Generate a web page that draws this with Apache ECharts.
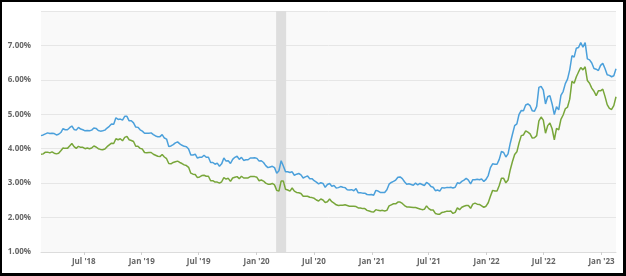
<!DOCTYPE html>
<html><head><meta charset="utf-8">
<script src="https://cdn.jsdelivr.net/npm/echarts@6/dist/echarts.min.js"></script>
<style>
html,body{margin:0;padding:0;background:#fff;}
#chart{position:absolute;left:0;top:0;width:626px;height:276px;}
#frame{position:absolute;left:0;top:0;width:626px;height:276px;box-sizing:border-box;border-style:solid;border-color:#000;border-width:2px 3px 3px 2px;pointer-events:none;}
</style></head>
<body>
<div id="chart"></div><div id="frame"></div>
<script>
// Weekly observations starting Thursday 2018-02-15
const startDate = '2018-02-15';

const fixed30_2018 = [4.38,4.40,4.43,4.46,4.44,4.45,4.44,4.40,4.42,4.47,4.58,4.55,4.55,4.61,4.66,4.56,4.54,4.62,4.57,4.55,4.52,4.53,4.52,4.54,4.60,4.59,4.53,4.51,4.52,4.54,4.60,4.65,4.72,4.71,4.90,4.85,4.86,4.83,4.94,4.94,4.81,4.81,4.75,4.63,4.62,4.55];
const fixed30_2019 = [4.51,4.45,4.45,4.45,4.46,4.41,4.37,4.35,4.35,4.41,4.31,4.28,4.06,4.08,4.12,4.17,4.20,4.14,4.10,4.07,4.06,3.99,3.82,3.82,3.84,3.73,3.75,3.75,3.81,3.75,3.75,3.60,3.60,3.55,3.58,3.49,3.56,3.73,3.64,3.65,3.57,3.69,3.75,3.78,3.69,3.75,3.66,3.68,3.68,3.73,3.73,3.74];
const fixed30_2020 = [3.72,3.64,3.65,3.60,3.51,3.45,3.47,3.49,3.45,3.29,3.36,3.65,3.50,3.33,3.33,3.31,3.33,3.23,3.26,3.28,3.24,3.15,3.18,3.21,3.13,3.13,3.07,3.03,2.98,3.01,2.99,2.88,2.96,2.99,2.91,2.93,2.86,2.87,2.90,2.88,2.87,2.81,2.80,2.81,2.78,2.84,2.72,2.72,2.71,2.71,2.67,2.66,2.67];
const fixed30_2021 = [2.65,2.79,2.77,2.73,2.73,2.73,2.81,2.97,3.02,3.05,3.09,3.17,3.18,3.13,3.04,2.97,2.98,2.96,2.94,3.00,2.95,2.99,2.96,2.93,3.02,2.98,2.90,2.88,2.78,2.80,2.77,2.87,2.86,2.87,2.87,2.88,2.86,2.88,3.01,2.99,3.05,3.09,3.14,3.09,2.98,3.10,3.10,3.11,3.10,3.12,3.05,3.11];
const fixed30_2022 = [3.22,3.45,3.56,3.55,3.55,3.69,3.92,3.89,3.76,3.85,4.16,4.42,4.67,4.72,5.00,5.11,5.10,5.27,5.30,5.25,5.10,5.09,5.23,5.78,5.81,5.70,5.30,5.51,5.54,5.30,4.99,5.22,5.13,5.55,5.66,5.89,6.02,6.29,6.70,6.66,6.92,6.94,7.08,6.95,7.08,6.61,6.58,6.49,6.33,6.31,6.27,6.42];
const fixed30_2023 = [6.48,6.33,6.15,6.13,6.09,6.12,6.32];

const fixed15_2018 = [3.84,3.85,3.90,3.90,3.88,3.91,3.87,3.85,3.87,3.94,4.02,4.01,4.01,4.08,4.15,4.06,4.01,4.07,4.04,4.04,4.00,4.02,4.00,4.02,4.08,4.05,4.00,3.98,3.97,3.99,4.06,4.11,4.16,4.15,4.29,4.26,4.29,4.23,4.33,4.36,4.26,4.24,4.21,4.07,4.07,4.01];
const fixed15_2019 = [3.99,3.89,3.88,3.89,3.89,3.84,3.81,3.78,3.77,3.83,3.76,3.71,3.57,3.56,3.60,3.62,3.64,3.60,3.57,3.53,3.51,3.46,3.29,3.26,3.25,3.16,3.18,3.22,3.23,3.20,3.20,3.07,3.07,3.03,3.03,3.00,3.04,3.16,3.12,3.14,3.05,3.15,3.17,3.19,3.13,3.20,3.15,3.15,3.15,3.19,3.19,3.19];
const fixed15_2020 = [3.17,3.07,3.09,3.06,3.00,2.97,2.97,2.99,2.95,2.79,2.77,3.06,3.06,2.82,2.80,2.77,2.86,2.77,2.73,2.72,2.70,2.62,2.62,2.62,2.59,2.58,2.56,2.51,2.48,2.54,2.51,2.44,2.46,2.54,2.46,2.42,2.37,2.35,2.36,2.36,2.37,2.35,2.33,2.33,2.33,2.32,2.28,2.28,2.26,2.26,2.21,2.19,2.17];
const fixed15_2021 = [2.16,2.23,2.21,2.20,2.21,2.19,2.21,2.34,2.37,2.40,2.40,2.45,2.45,2.41,2.35,2.31,2.31,2.30,2.29,2.29,2.27,2.25,2.23,2.24,2.34,2.26,2.22,2.22,2.12,2.10,2.10,2.15,2.16,2.18,2.18,2.19,2.12,2.15,2.28,2.23,2.30,2.33,2.35,2.35,2.27,2.39,2.42,2.39,2.38,2.34,2.30,2.33];
const fixed15_2022 = [2.43,2.62,2.79,2.77,2.77,2.93,3.14,3.14,3.01,3.09,3.39,3.63,3.83,3.91,4.17,4.38,4.40,4.52,4.48,4.43,4.31,4.32,4.38,4.81,4.92,4.83,4.45,4.67,4.75,4.58,4.26,4.59,4.55,4.85,4.98,5.16,5.21,5.44,5.96,5.90,6.09,6.23,6.36,6.29,6.38,5.98,5.90,5.76,5.67,5.54,5.68,5.68];
const fixed15_2023 = [5.73,5.52,5.28,5.17,5.14,5.25,5.51];

const xTickDates = ['2018-07-01','2019-01-01','2019-07-01','2020-01-01','2020-07-01','2021-01-01','2021-07-01','2022-01-01','2022-07-01','2023-01-01'];
const xTickLabels = ["Jul '18","Jan '19","Jul '19","Jan '20","Jul '20","Jan '21","Jul '21","Jan '22","Jul '22","Jan '23"];
const recession = ['2020-03-03','2020-04-04'];

const fixed30 = [].concat(fixed30_2018,fixed30_2019,fixed30_2020,fixed30_2021,fixed30_2022,fixed30_2023);
const fixed15 = [].concat(fixed15_2018,fixed15_2019,fixed15_2020,fixed15_2021,fixed15_2022,fixed15_2023);

function toTime(d){ const p = d.split('-'); return Date.UTC(+p[0], +p[1]-1, +p[2]); }
const t0 = toTime(startDate);
const dates = fixed30.map((_, i) => t0 + i * 7 * 86400000);
const tickTimes = xTickDates.map(toTime);
const recTimes = recession.map(toTime);

const chart = echarts.init(document.getElementById('chart'), null, {renderer:'canvas'});
const font = {fontFamily:'"Open Sans", sans-serif', fontSize:8, fontWeight:'bold', color:'#666'};
chart.setOption({
  animation:false,
  grid:{left:41, right:10, top:11, bottom:24, show:true, backgroundColor:'#f9f9f9', borderWidth:0},
  xAxis:{
    type:'value', min:dates[0], max:dates[dates.length-1],
    axisLine:{show:true, lineStyle:{color:'#dcdcdc', width:1}},
    axisTick:{show:true, customValues:tickTimes, length:3, lineStyle:{color:'#cfcfcf'}},
    axisLabel:Object.assign({customValues:tickTimes, margin:6,
      formatter:function(v){ const i = tickTimes.indexOf(v); return i>=0 ? xTickLabels[i] : ''; }}, font),
    splitLine:{show:false}
  },
  yAxis:{
    type:'value', min:1, max:8, interval:1,
    axisLine:{show:false}, axisTick:{show:false},
    axisLabel:Object.assign({margin:10, showMaxLabel:false, formatter:v => v.toFixed(2)+'%'}, font),
    splitLine:{lineStyle:{color:'#e6e6e6', width:1}}
  },
  series:[
    {type:'line', data:[], silent:true,
     markArea:{silent:true, itemStyle:{color:'#dedede'}, data:[[{xAxis:recTimes[0]},{xAxis:recTimes[1]}]]}},
    {name:'30-Year Fixed', type:'line', showSymbol:false, data:dates.map((d,i)=>[d,fixed30[i]]),
     lineStyle:{color:'#4ba0db', width:1.5}, itemStyle:{color:'#4ba0db'}},
    {name:'15-Year Fixed', type:'line', showSymbol:false, data:dates.map((d,i)=>[d,fixed15[i]]),
     lineStyle:{color:'#78a63a', width:1.5}, itemStyle:{color:'#78a63a'}}
  ]
});
</script>
</body></html>
